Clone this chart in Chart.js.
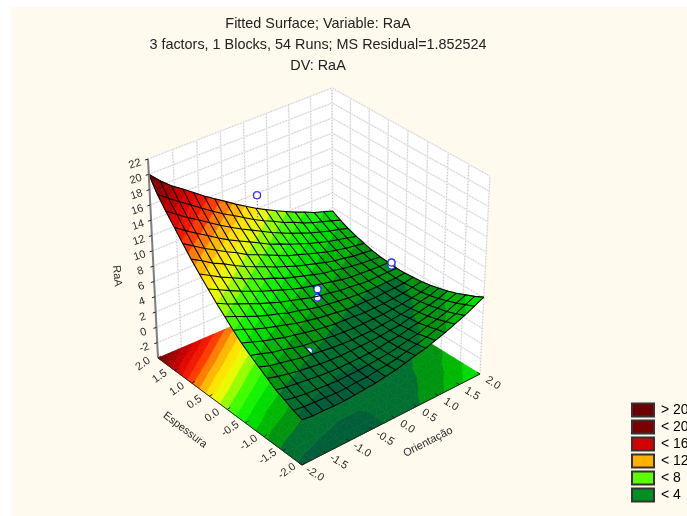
<!DOCTYPE html>
<html>
<head>
<meta charset="utf-8">
<title>Fitted Surface; Variable: RaA</title>
<script src="https://cdn.jsdelivr.net/npm/chart.js@4/dist/chart.umd.js"></script>
<style>
    html, body { margin: 0; background: #fff; overflow: hidden; }
    #bg { position: absolute; left: 11px; top: 7px; right: 0; bottom: 0; background: #fff9ee; }
    #surface { position: absolute; left: 0; top: 0; display: block; }
</style>
</head>
<body>
<div id="bg"></div>
<canvas id="surface" width="687" height="516"></canvas>
<script>
const titleLines = ["Fitted Surface; Variable: RaA", "3 factors, 1 Blocks, 54 Runs; MS Residual=1.852524", "DV: RaA"];

// grid axes of the fitted surface
const orientacao = [-2, -1.78, -1.56, -1.33, -1.11, -0.89, -0.67, -0.44, -0.22, 0, 0.22, 0.44, 0.67, 0.89, 1.11, 1.33, 1.56, 1.78, 2];
const espessura = [-2, -1.78, -1.56, -1.33, -1.11, -0.89, -0.67, -0.44, -0.22, 0, 0.22, 0.44, 0.67, 0.89, 1.11, 1.33, 1.56, 1.78, 2];

// RaA, one row per espessura, one column per orientacao
const raa = [
    [1.8, 1.6, 1.6, 1.5, 1.5, 1.6, 1.7, 1.8, 2.0, 2.2, 2.5, 2.8, 3.1, 3.5, 3.9, 4.4, 4.9, 5.5, 6.1],
    [2.2, 2.0, 1.9, 1.8, 1.7, 1.7, 1.8, 1.8, 2.0, 2.1, 2.3, 2.6, 2.9, 3.2, 3.6, 4.0, 4.4, 5.0, 5.5],
    [2.7, 2.4, 2.2, 2.1, 2.0, 1.9, 1.9, 1.9, 2.0, 2.1, 2.2, 2.4, 2.7, 2.9, 3.3, 3.6, 4.0, 4.5, 5.0],
    [3.2, 2.9, 2.7, 2.5, 2.3, 2.2, 2.1, 2.1, 2.1, 2.1, 2.2, 2.4, 2.5, 2.8, 3.0, 3.3, 3.7, 4.1, 4.5],
    [3.9, 3.5, 3.2, 2.9, 2.7, 2.5, 2.4, 2.3, 2.3, 2.3, 2.3, 2.4, 2.5, 2.6, 2.9, 3.1, 3.4, 3.7, 4.1],
    [4.6, 4.1, 3.8, 3.5, 3.2, 3.0, 2.8, 2.6, 2.5, 2.4, 2.4, 2.4, 2.5, 2.6, 2.7, 2.9, 3.2, 3.4, 3.8],
    [5.3, 4.9, 4.4, 4.1, 3.7, 3.4, 3.2, 3.0, 2.8, 2.7, 2.6, 2.6, 2.6, 2.6, 2.7, 2.8, 3.0, 3.2, 3.5],
    [6.1, 5.6, 5.1, 4.7, 4.3, 4.0, 3.7, 3.4, 3.2, 3.0, 2.9, 2.8, 2.7, 2.7, 2.7, 2.8, 2.9, 3.1, 3.3],
    [7.0, 6.5, 5.9, 5.4, 5.0, 4.6, 4.2, 3.9, 3.6, 3.4, 3.2, 3.0, 2.9, 2.9, 2.8, 2.9, 2.9, 3.0, 3.2],
    [8.0, 7.4, 6.8, 6.2, 5.7, 5.3, 4.8, 4.5, 4.1, 3.8, 3.6, 3.4, 3.2, 3.1, 3.0, 3.0, 3.0, 3.0, 3.1],
    [9.0, 8.3, 7.7, 7.1, 6.5, 6.0, 5.5, 5.1, 4.7, 4.3, 4.0, 3.8, 3.5, 3.4, 3.2, 3.1, 3.1, 3.1, 3.1],
    [10.1, 9.4, 8.7, 8.0, 7.4, 6.8, 6.3, 5.8, 5.3, 4.9, 4.6, 4.3, 4.0, 3.7, 3.5, 3.4, 3.3, 3.2, 3.2],
    [11.3, 10.5, 9.7, 9.0, 8.3, 7.7, 7.1, 6.6, 6.0, 5.6, 5.2, 4.8, 4.4, 4.2, 3.9, 3.7, 3.5, 3.4, 3.3],
    [12.5, 11.7, 10.8, 10.1, 9.3, 8.6, 8.0, 7.4, 6.8, 6.3, 5.8, 5.4, 5.0, 4.6, 4.3, 4.1, 3.8, 3.7, 3.5],
    [13.8, 12.9, 12.0, 11.2, 10.4, 9.7, 8.9, 8.3, 7.7, 7.1, 6.5, 6.1, 5.6, 5.2, 4.8, 4.5, 4.2, 4.0, 3.8],
    [15.2, 14.2, 13.3, 12.4, 11.5, 10.7, 10.0, 9.3, 8.6, 7.9, 7.4, 6.8, 6.3, 5.8, 5.4, 5.0, 4.7, 4.4, 4.1],
    [16.6, 15.6, 14.6, 13.7, 12.8, 11.9, 11.1, 10.3, 9.6, 8.9, 8.2, 7.6, 7.0, 6.5, 6.0, 5.6, 5.2, 4.9, 4.5],
    [18.1, 17.0, 16.0, 15.0, 14.0, 13.1, 12.2, 11.4, 10.6, 9.8, 9.1, 8.5, 7.8, 7.3, 6.7, 6.2, 5.8, 5.4, 5.0],
    [20.0, 18.6, 17.4, 16.4, 15.4, 14.4, 13.5, 12.6, 11.7, 10.9, 10.1, 9.4, 8.7, 8.1, 7.5, 7.0, 6.4, 6.0, 5.6]
];

// observed runs shown as markers
const runOri = [0.1, 0.08, 0.08, -0.9, 1.9, 1.9];
const runEsp = [1.8, 0.13, 0.13, -0.83, 0.25, 0.25];
const runRaa = [12.7, 5.5, 4.4, 3.25, 4.0, 3.6];

const zTicks = [-2, 0, 2, 4, 6, 8, 10, 12, 14, 16, 18, 20, 22];
const xyTicks = [-2, -1.5, -1, -0.5, 0, 0.5, 1, 1.5, 2];
const legendLabels = ["> 20", "< 20", "< 16", "< 12", "< 8", "< 4"];
const legendColors = ["#6d0000", "#7a0000", "#d40000", "#ffb000", "#5cff00", "#009020"];

// colour by contour level
const levelValues = [0, 2, 2.5, 3, 4, 5, 6, 7, 8, 9, 10, 11, 12, 13, 14, 16, 18, 20, 30];
const levelColors = [[0, 80, 56], [0, 100, 56], [0, 112, 48], [0, 135, 24], [0, 162, 8], [0, 205, 0], [0, 235, 0], [40, 250, 0], [92, 255, 0], [210, 255, 0], [255, 245, 0], [255, 210, 0], [255, 160, 0], [255, 90, 0], [255, 30, 0], [212, 0, 0], [150, 0, 0], [112, 0, 0], [112, 0, 0]];

const Z_MIN = -4, Z_MAX = 22;

// box corners on screen, floor then ceiling
const floorBox = { left: [158, 358], front: [302, 465], right: [480, 374], back: [333, 283] };
const topBox = { left: [148, 159], front: [302, 262], right: [490, 176], back: [332, 88] };
const PERSP = 1.08;

function warp(t) {
    return t * PERSP / (1 + t * (PERSP - 1));
}

function corner(box, u, v, i) {
    return (1 - v) * ((1 - u) * box.front[i] + u * box.right[i]) + v * ((1 - u) * box.left[i] + u * box.back[i]);
}

function project(ori, esp, z) {
    const u = warp((ori + 2) / 4), v = warp((esp + 2) / 4), h = (z - Z_MIN) / (Z_MAX - Z_MIN);
    return {
        x: (1 - h) * corner(floorBox, u, v, 0) + h * corner(topBox, u, v, 0),
        y: (1 - h) * corner(floorBox, u, v, 1) + h * corner(topBox, u, v, 1)
    };
}

function levelColor(z) {
    let i = 0;
    while (i < levelValues.length - 2 && z > levelValues[i + 1]) i++;
    const t = Math.max(0, Math.min(1, (z - levelValues[i]) / (levelValues[i + 1] - levelValues[i])));
    const c = levelColors[i].map((a, k) => Math.round(a + t * (levelColors[i + 1][k] - a)));
    return `rgb(${c[0]},${c[1]},${c[2]})`;
}

// cut a triangle down to the part between two contour levels
function clipBand(poly, lo, hi) {
    const cut = (pts, keep, level) => {
        const out = [];
        pts.forEach((p, i) => {
            const q = pts[(i + 1) % pts.length];
            if (keep(p.z)) out.push(p);
            if (keep(p.z) !== keep(q.z)) {
                const t = (level - p.z) / (q.z - p.z);
                out.push({ o: p.o + t * (q.o - p.o), e: p.e + t * (q.e - p.e), z: level });
            }
        });
        return out;
    };
    const a = cut(poly, z => z >= lo, lo);
    return a.length ? cut(a, z => z <= hi, hi) : a;
}

function polyDataset(points, color) {
    return {
        data: points.concat([points[0]]), showLine: true, fill: "shape", backgroundColor: color,
        borderColor: color, borderWidth: 0.7, pointRadius: 0, clip: false
    };
}

function lineDataset(points, color, width, dash) {
    return {
        data: points, showLine: true, fill: false, borderColor: color, borderWidth: width,
        borderDash: dash || [], pointRadius: 0, clip: false
    };
}

function bandPieces() {
    const pieces = [];
    for (let r = 0; r < espessura.length - 1; r++) {
        for (let c = 0; c < orientacao.length - 1; c++) {
            const v = (rr, cc) => ({ o: orientacao[cc], e: espessura[rr], z: raa[rr][cc] });
            const tris = [[v(r, c), v(r, c + 1), v(r + 1, c + 1)], [v(r, c), v(r + 1, c + 1), v(r + 1, c)]];
            tris.forEach(tri => {
                const zs = tri.map(p => p.z);
                for (let lvl = Math.floor(Math.min(...zs)); lvl <= Math.floor(Math.max(...zs)); lvl++) {
                    const poly = clipBand(tri, lvl, lvl + 1);
                    if (poly.length >= 3) pieces.push({ poly, color: levelColor(lvl + 0.5), depth: orientacao[c] + espessura[r] + 0.22 });
                }
            });
        }
    }
    return pieces;
}

function surfaceAt(ori, esp) {
    let c = 0, r = 0;
    while (c < orientacao.length - 2 && ori > orientacao[c + 1]) c++;
    while (r < espessura.length - 2 && esp > espessura[r + 1]) r++;
    const tc = (ori - orientacao[c]) / (orientacao[c + 1] - orientacao[c]);
    const tr = (esp - espessura[r]) / (espessura[r + 1] - espessura[r]);
    return (1 - tr) * ((1 - tc) * raa[r][c] + tc * raa[r][c + 1]) + tr * ((1 - tc) * raa[r + 1][c] + tc * raa[r + 1][c + 1]);
}

function wallLine(points, sets) {
    sets.push(lineDataset(points, "#f0f0f0", 1.6));
    sets.push(lineDataset(points, "#c6c6c6", 1, [1, 2]));
}

function buildDatasets() {
    const sets = [];

    // back walls
    sets.push(polyDataset([project(-2, 2, Z_MIN), project(2, 2, Z_MIN), project(2, 2, Z_MAX), project(-2, 2, Z_MAX)], "#ffffff"));
    sets.push(polyDataset([project(2, 2, Z_MIN), project(2, -2, Z_MIN), project(2, -2, Z_MAX), project(2, 2, Z_MAX)], "#ffffff"));
    zTicks.forEach(z => wallLine([project(-2, 2, z), project(2, 2, z), project(2, -2, z)], sets));
    xyTicks.forEach(t => {
        wallLine([project(t, 2, Z_MIN), project(t, 2, Z_MAX)], sets);
        wallLine([project(2, t, Z_MIN), project(2, t, Z_MAX)], sets);
    });

    const pieces = bandPieces();

    // contour map on the floor
    pieces.forEach(p => sets.push(polyDataset(p.poly.map(q => project(q.o, q.e, Z_MIN)), p.color)));

    // surface back to front, with the runs at their own depth
    const drawList = pieces.map(p => ({ depth: p.depth, poly: p.poly, color: p.color }));
    runRaa.forEach((z, i) => drawList.push({ depth: runOri[i] + runEsp[i], run: i }));
    drawList.sort((a, b) => b.depth - a.depth);
    drawList.forEach(item => {
        if (item.poly) {
            sets.push(polyDataset(item.poly.map(q => project(q.o, q.e, q.z)), item.color));
        } else {
            sets.push(runDataset(item.run));
        }
    });

    // mesh
    espessura.forEach((e, r) => {
        sets.push(lineDataset(orientacao.map((o, c) => project(o, e, raa[r][c])), "#050505", 1.1));
    });
    orientacao.forEach((o, c) => {
        sets.push(lineDataset(espessura.map((e, r) => project(o, e, raa[r][c])), "#050505", 1.1));
    });

    // runs standing clear of the surface go over the mesh, with a stem down to it
    runRaa.forEach((z, i) => {
        const foot = surfaceAt(runOri[i], runEsp[i]);
        if (z > foot + 0.5) {
            if (z > foot + 1.5) sets.push(lineDataset([project(runOri[i], runEsp[i], z), project(runOri[i], runEsp[i], foot)], "#4040ff", 1, [1, 2]));
            sets.push(runDataset(i));
        }
    });

    // axis lines and ticks
    sets.push(lineDataset([project(-2, 2, Z_MIN), project(-2, 2, Z_MAX)], "#7f7f7f", 2));
    sets.push(lineDataset([project(-2, 2, Z_MIN), project(-2, -2, Z_MIN), project(2, -2, Z_MIN)], "#222222", 1));
    zTicks.forEach(z => {
        const p = project(-2, 2, z);
        sets.push(lineDataset([p, { x: p.x - 3, y: p.y + 1 }], "#222222", 1));
    });
    xyTicks.forEach(t => {
        const a = project(-2, t, Z_MIN), b = project(t, -2, Z_MIN);
        sets.push(lineDataset([a, { x: a.x + 3, y: a.y - 2 }], "#222222", 1));
        sets.push(lineDataset([b, { x: b.x - 3, y: b.y - 2 }], "#222222", 1));
    });

    // Chart.js paints the first dataset last
    return sets.reverse();
}

function runDataset(i) {
    return {
        data: [project(runOri[i], runEsp[i], runRaa[i])], showLine: false, pointRadius: 3.5, pointStyle: "circle",
        pointBackgroundColor: "#ffffff", pointBorderColor: "#3030ff", pointBorderWidth: 1.2, clip: false
    };
}

function rotatedText(chart, text, x, y, angle, size) {
    const ctx = chart.ctx;
    ctx.save();
    ctx.translate(chart.scales.x.getPixelForValue(x), chart.scales.y.getPixelForValue(y));
    ctx.rotate(angle * Math.PI / 180);
    ctx.font = `${size}px "Liberation Sans", Arial, sans-serif`;
    ctx.fillStyle = "#2a2a2a";
    ctx.textAlign = "center";
    ctx.textBaseline = "middle";
    ctx.fillText(text, 0, 0);
    ctx.restore();
}

const axisText = {
    id: "axisText",
    afterDatasetsDraw(chart) {
        zTicks.forEach(z => {
            const p = project(-2, 2, z);
            rotatedText(chart, String(z), p.x - 13, p.y + 5, -18, 11);
        });
        xyTicks.forEach(t => {
            const a = project(-2, t, Z_MIN), b = project(t, -2, Z_MIN);
            rotatedText(chart, t.toFixed(1), a.x - 15, a.y + 6, -35, 11);
            rotatedText(chart, t.toFixed(1), b.x + 13, b.y + 9, 32, 11);
        });
        rotatedText(chart, "Espessura", 185, 430, 37, 11);
        rotatedText(chart, "Orientação", 428, 442, -27, 11);
        rotatedText(chart, "RaA", 117, 276, 85, 11);
    }
};

new Chart(document.getElementById("surface"), {
    type: "scatter",
    data: { datasets: buildDatasets() },
    plugins: [axisText],
    options: {
        responsive: false,
        animation: false,
        events: [],
        layout: { padding: { left: 7, bottom: 11 } },
        scales: {
            x: { display: false, min: 7, max: 629 },
            y: { display: false, reverse: true, min: 83, max: 505 }
        },
        plugins: {
            tooltip: { enabled: false },
            title: {
                display: true,
                text: titleLines,
                fullSize: false,
                color: "#222222",
                font: { family: '"Liberation Sans", Arial, sans-serif', size: 14.4, weight: "normal", lineHeight: "21px" },
                padding: { top: 13.5, bottom: 6.5 }
            },
            legend: {
                position: "right",
                align: "end",
                maxWidth: 58,
                labels: {
                    boxWidth: 22,
                    boxHeight: 13,
                    padding: 3,
                    color: "#222222",
                    font: { family: '"Liberation Sans", Arial, sans-serif', size: 14 },
                    generateLabels: () => legendLabels.map((text, i) => ({
                        text, fillStyle: legendColors[i], strokeStyle: "#333333", lineWidth: 2, hidden: false, datasetIndex: i
                    }))
                }
            }
        }
    }
});
</script>
</body>
</html>
